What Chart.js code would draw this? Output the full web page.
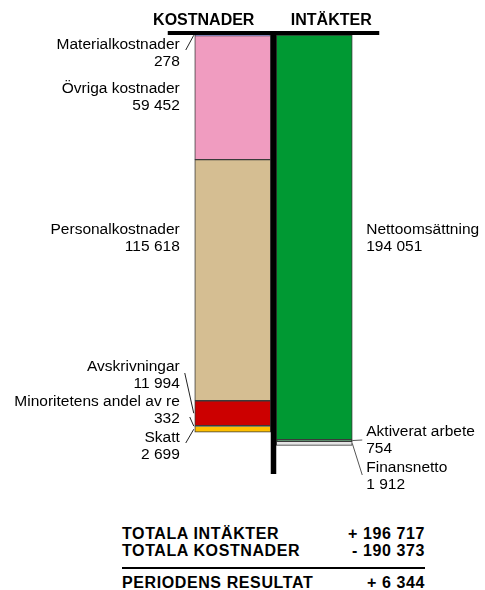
<!DOCTYPE html>
<html>
<head>
<meta charset="utf-8">
<script src="https://cdn.jsdelivr.net/npm/chart.js@4.4.0/dist/chart.umd.min.js"></script>
<style>
body{margin:0;background:#fff;font-family:"Liberation Sans",Arial,sans-serif;}
#wrap{position:relative;width:485px;height:590px;overflow:hidden;}
#chartContainer{position:absolute;left:0;top:0;}
.row{position:absolute;left:122px;width:303px;height:18px;line-height:18px;font-size:16px;font-weight:bold;color:#000;white-space:nowrap;letter-spacing:0.6px;}
.row .v{position:absolute;right:0;top:0;}
#rule{position:absolute;left:122px;top:567px;width:303px;height:2px;background:#000;}
</style>
</head>
<body>
<div id="wrap">
  <canvas id="chartContainer" width="485" height="490"></canvas>
  <div class="row" style="top:525px"><span>TOTALA INTÄKTER</span><span class="v" id="totIncome"></span></div>
  <div class="row" style="top:542px"><span>TOTALA KOSTNADER</span><span class="v" id="totCost"></span></div>
  <div id="rule"></div>
  <div class="row" style="top:574px"><span>PERIODENS RESULTAT</span><span class="v" id="totResult"></span></div>
</div>
<script>
var columns = ['KOSTNADER', 'INTÄKTER'];
var costNames = ['Materialkostnader', 'Övriga kostnader', 'Personalkostnader', 'Avskrivningar', 'Minoritetens andel av re', 'Skatt'];
var costValues = [278, 59452, 115618, 11994, 332, 2699];
var incomeNames = ['Nettoomsättning', 'Aktiverat arbete', 'Finansnetto'];
var incomeValues = [194051, 754, 1912];
var costColors = ['#9999FF', '#F09CC0', '#D5BE92', '#CC0000', '#FFFF99', '#FFC000'];
var incomeColors = ['#009933', '#1F7A3A', '#E4E4E4'];

// label layout: first-line baseline below the top of the bars
var costLabelY = [14, 58, 199, 336, 371, 407];
var incomeLabelY = [199, 401, 437];
// leader lines: start point relative to label anchor, null = no line
var costLeaders = [[6, 1], null, null, [5, 2], [10, 11], [6, 1]];
var incomeLeaders = [null, [-4, 4], [-4, 3]];

function fmt(v) {
  return String(Math.abs(v)).replace(/\B(?=(\d{3})+(?!\d))/g, ' ');
}
function sum(a) {
  var s = 0;
  for (var i = 0; i < a.length; i++) s += a[i];
  return s;
}

var totalIncome = sum(incomeValues);
var totalCost = sum(costValues);
var result = totalIncome - totalCost;
document.getElementById('totIncome').textContent = '+ ' + fmt(totalIncome);
document.getElementById('totCost').textContent = '- ' + fmt(totalCost);
document.getElementById('totResult').textContent = (result >= 0 ? '+ ' : '- ') + fmt(result);

var datasets = [];
for (var i = 0; i < costValues.length; i++) {
  datasets.push({label: costNames[i], data: [costValues[i], null], backgroundColor: costColors[i]});
}
for (var j = 0; j < incomeValues.length; j++) {
  datasets.push({label: incomeNames[j], data: [null, incomeValues[j]], backgroundColor: incomeColors[j]});
}

var overlay = {
  id: 'overlay',
  afterDatasetsDraw: function(chart) {
    var ctx = chart.ctx;
    var area = chart.chartArea;
    var lb = chart.getDatasetMeta(0).data[0];
    var rb = chart.getDatasetMeta(costValues.length).data[1];
    var lLeft = lb.x - lb.width / 2, lRight = lb.x + lb.width / 2;
    var rLeft = rb.x - rb.width / 2, rRight = rb.x + rb.width / 2;
    ctx.save();

    // the T
    ctx.fillStyle = '#000';
    ctx.fillRect(lLeft - 27, area.top - 4, rRight + 27 - (lLeft - 27), 4);
    ctx.fillRect(lRight, area.top - 4, rLeft - lRight, area.bottom - area.top + 5);

    // column headers
    ctx.font = 'bold 16px "Liberation Sans", Arial, sans-serif';
    ctx.textAlign = 'center';
    ctx.textBaseline = 'alphabetic';
    ctx.fillText(columns[0], lb.x - 29, area.top - 10);
    ctx.fillText(columns[1], rb.x + 17, area.top - 10);

    ctx.font = '15.5px "Liberation Sans", Arial, sans-serif';
    ctx.lineWidth = 1;

    // cost labels
    var ax = lLeft - 15;
    ctx.textAlign = 'right';
    for (var i = 0; i < costNames.length; i++) {
      var y = area.top + costLabelY[i];
      ctx.fillStyle = '#000';
      ctx.fillText(costNames[i], ax, y);
      ctx.fillText(fmt(costValues[i]), ax, y + 16.7);
      if (costLeaders[i]) {
        var el = chart.getDatasetMeta(i).data[0];
        ctx.strokeStyle = '#222';
        ctx.beginPath();
        ctx.moveTo(ax + costLeaders[i][0], y + costLeaders[i][1]);
        ctx.lineTo(lLeft - 1, (el.y + el.base) / 2);
        ctx.stroke();
      }
    }

    // income labels
    var bx = rRight + 14;
    ctx.textAlign = 'left';
    for (var j = 0; j < incomeNames.length; j++) {
      var y2 = area.top + incomeLabelY[j];
      ctx.fillStyle = '#000';
      ctx.fillText(incomeNames[j], bx, y2);
      ctx.fillText(fmt(incomeValues[j]), bx, y2 + 16.7);
      if (incomeLeaders[j]) {
        var el2 = chart.getDatasetMeta(costValues.length + j).data[1];
        ctx.strokeStyle = '#555';
        ctx.beginPath();
        ctx.moveTo(rRight, (el2.y + el2.base) / 2);
        ctx.lineTo(bx + incomeLeaders[j][0], y2 + incomeLeaders[j][1]);
        ctx.stroke();
      }
    }
    ctx.restore();
  }
};

var ctx = document.getElementById('chartContainer').getContext('2d');
var myChart = new Chart(ctx, {
  type: 'bar',
  data: {
    labels: columns,
    datasets: datasets
  },
  options: {
    responsive: false,
    animation: false,
    devicePixelRatio: 1,
    layout: {padding: {left: 192, right: 130, top: 35, bottom: 17}},
    datasets: {bar: {barThickness: 76, borderWidth: 1, borderColor: '#3a3a3a', borderSkipped: false}},
    scales: {
      x: {display: false, stacked: true},
      y: {display: false, stacked: true, reverse: true, min: 0, max: 210000}
    },
    plugins: {
      legend: {display: false},
      tooltip: {enabled: false}
    }
  },
  plugins: [overlay]
});
</script>
</body>
</html>
